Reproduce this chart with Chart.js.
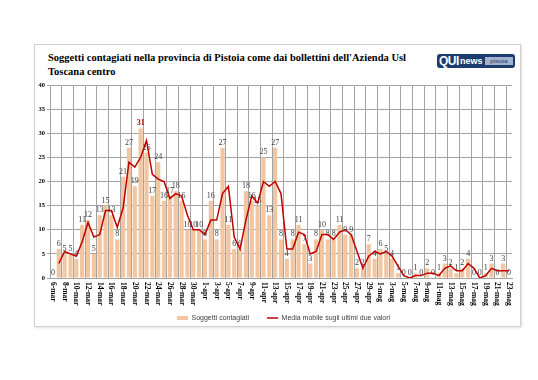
<!DOCTYPE html>
<html><head><meta charset="utf-8">
<script src="https://cdn.jsdelivr.net/npm/chart.js@4/dist/chart.umd.min.js"></script>
<style>
html,body{margin:0;padding:0;background:#fff;width:538px;height:380px;overflow:hidden;}
#frame{position:absolute;left:34px;top:44px;width:487px;height:283px;border:1px solid #d0d0d0;box-sizing:border-box;box-shadow:1px 1px 2px rgba(0,0,0,0.12);}
#title{position:absolute;left:48px;top:51px;font:bold 10.5px "Liberation Serif",serif;line-height:14px;color:#000;white-space:nowrap;}
#logo{position:absolute;left:437px;top:54px;width:78px;height:14px;border-radius:3px;background:#1d3c6e;overflow:hidden;font-family:"Liberation Sans",sans-serif;white-space:nowrap;}
#logo .q{position:absolute;left:2px;top:0px;font:bold 12px "Liberation Sans",sans-serif;color:#fff;letter-spacing:-0.5px;line-height:14px;}
#logo .n{position:absolute;left:23px;top:1px;font:bold 9px "Liberation Sans",sans-serif;color:#fff;line-height:12px;}
#logo .p{position:absolute;left:48px;top:3px;width:28px;height:8px;background:#9fb3cf;font:6px "Liberation Sans",sans-serif;color:#1d3c6e;line-height:8px;text-align:center;}
#c{position:absolute;left:0;top:0;}
</style></head><body>
<div id="frame"></div>
<div id="title">Soggetti contagiati nella provincia di Pistoia come dai bollettini dell'Azienda Usl<br>Toscana centro</div>
<div id="logo"><span class="q">QUI</span><span class="n">news</span><span class="p">pistoia</span></div>
<canvas id="c" width="538" height="380"></canvas>
<script>
const categories = ['6-mar','7-mar','8-mar','9-mar','10-mar','11-mar','12-mar','13-mar','14-mar','15-mar','16-mar','17-mar','18-mar','19-mar','20-mar','21-mar','22-mar','23-mar','24-mar','25-mar','26-mar','27-mar','28-mar','29-mar','30-mar','31-mar',
'1-apr','2-apr','3-apr','4-apr','5-apr','6-apr','7-apr','8-apr','9-apr','10-apr','11-apr','12-apr','13-apr','14-apr','15-apr','16-apr','17-apr','18-apr','19-apr','20-apr','21-apr','22-apr','23-apr','24-apr','25-apr','26-apr','27-apr','28-apr','29-apr','30-apr',
'1-mag','2-mag','3-mag','4-mag','5-mag','6-mag','7-mag','8-mag','9-mag','10-mag','11-mag','12-mag','13-mag','14-mag','15-mag','16-mag','17-mag','18-mag','19-mag','20-mag','21-mag','22-mag','23-mag'];

const contagiati = [0,6,5,5,4,11,12,5,13,15,13,8,21,27,19,31,26,17,24,16,17,18,16,10,10,10,
8,16,8,27,11,6,6,18,16,15,25,13,27,8,4,8,11,7,3,8,10,8,8,11,9,9,2,2,7,4,
6,5,4,1,0,0,1,0,2,0,1,3,2,1,2,4,0,0,1,3,0,3,0];

const mediaMobile = [null,3,5.5,5,4.5,7.5,11.5,8.5,9,14,14,10.5,14.5,24,23,25,28.5,21.5,20.5,20,16.5,17.5,17,13,10,10,
9,12,12,17.5,19,8.5,6,12,17,15.5,20,19,20,17.5,6,6,9.5,9,5,5.5,9,9,8,9.5,10,9,5.5,2,4.5,5.5,
5,5.5,4.5,2.5,0.5,0,0.5,0.5,1,1,0.5,2,2.5,1.5,1.5,3,2,0,0.5,2,1.5,1.5,1.5];

const tickLabels = categories.filter((c, i) => i % 2 === 0);
const yTicks = [0,5,10,15,20,25,30,35,40];

const seriesNames = ['Soggetti contagiati', 'Media mobile sugli ultimi due valori'];

const BAR = '#f2c6a0';
const LINE = '#c00000';
const GRID = '#a3a3a3';
const SERIF = '"Liberation Serif", serif';

const valueLabels = {
  id: 'valueLabels',
  afterDatasetDraw(chart, args) {
    if (args.index !== 0) return;
    const ctx = chart.ctx;
    const max = Math.max(...contagiati);
    ctx.save();
    ctx.textAlign = 'center';
    ctx.textBaseline = 'bottom';
    args.meta.data.forEach((bar, i) => {
      const v = contagiati[i];
      if (v === max) { ctx.fillStyle = '#c00000'; ctx.font = 'bold 8px ' + SERIF; }
      else { ctx.fillStyle = '#404040'; ctx.font = '8px ' + SERIF; }
      ctx.fillText(String(v), bar.x, bar.y - 1);
    });
    ctx.restore();
  }
};

const xLabels = {
  id: 'xLabels',
  afterDraw(chart) {
    const xs = chart.scales.x;
    const ctx = chart.ctx;
    ctx.save();
    ctx.font = 'bold 7.5px ' + SERIF;
    ctx.fillStyle = '#000';
    ctx.textAlign = 'left';
    ctx.textBaseline = 'middle';
    categories.forEach((c, i) => {
      if (i % 2 !== 0 || !tickLabels.includes(c)) return;
      const x = xs.getPixelForValue(i);
      ctx.save();
      ctx.translate(x, chart.chartArea.bottom + 4);
      ctx.rotate(Math.PI / 2);
      ctx.fillText(c, 0, 0);
      ctx.restore();
    });
    ctx.restore();
  }
};

const legendShift = {
  id: 'legendShift',
  afterLayout(chart) {
    const L = chart.legend;
    const w = L.right - L.left;
    L.left = 159;
    L.right = L.left + w;
  }
};

new Chart(document.getElementById('c'), {
  data: {
    labels: categories,
    datasets: [
      { type: 'bar', label: seriesNames[0], data: contagiati, backgroundColor: BAR, borderWidth: 0,
        barPercentage: 0.72, categoryPercentage: 1.0, order: 1, pointStyle: 'rect' },
      { type: 'line', label: seriesNames[1], data: mediaMobile, borderColor: LINE, backgroundColor: LINE,
        borderWidth: 1.5, pointRadius: 0, tension: 0, spanGaps: false, order: 0, pointStyle: 'line' }
    ]
  },
  options: {
    responsive: false,
    animation: false,
    devicePixelRatio: 1,
    layout: { padding: { left: 36, right: 26, top: 85, bottom: 48.5 } },
    plugins: {
      title: { display: false },
      tooltip: { enabled: false },
      legend: {
        position: 'bottom',
        align: 'start',
        labels: {
          usePointStyle: true, pointStyleWidth: 11, boxHeight: 4,
          padding: 18,
          color: '#404040',
          font: { family: '"Liberation Sans", sans-serif', size: 7 },
          sort: (a, b) => a.datasetIndex - b.datasetIndex
        }
      }
    },
    scales: {
      x: {
        grid: { offset: true, drawTicks: false, lineWidth: 1,
          color: c => (c.index % 2 === 0 ? GRID : 'rgba(0,0,0,0)') },
        border: { color: GRID },
        ticks: { display: false, autoSkip: false },
        afterFit: s => { s.height = 18.5; }
      },
      y: {
        min: 0, max: 40,
        afterBuildTicks: s => { s.ticks = yTicks.map(v => ({ value: v })); },
        grid: { color: GRID, drawTicks: true, tickLength: 3, tickColor: GRID },
        border: { color: GRID },
        ticks: { font: { family: SERIF, weight: 'bold', size: 6.5 }, color: '#000', padding: 2 },
        afterFit: s => { s.width = 14; }
      }
    }
  },
  plugins: [valueLabels, xLabels, legendShift]
});
</script>
</body></html>
